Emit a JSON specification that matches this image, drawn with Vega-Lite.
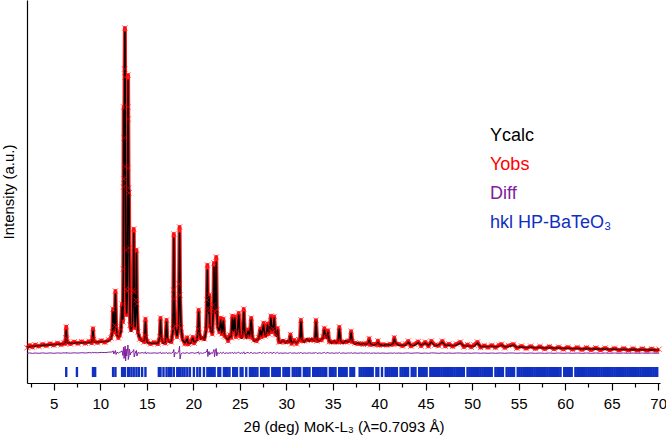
{
  "$schema": "https://vega.github.io/schema/vega-lite/v6.json",
  "width": 633,
  "height": 383,
  "autosize": "none",
  "padding": {"left": 27, "top": 0, "right": 6, "bottom": 59},
  "background": "white",
  "config": {
    "view": {"stroke": null},
    "axisY": {"labels": false, "ticks": false, "grid": false, "domainColor": "black", "domainWidth": 1.2, "titleFont": "Liberation Sans", "titleFontSize": 15, "titleFontWeight": "normal", "titleColor": "black", "titlePadding": 11},
    "axisX": {"grid": false, "domainColor": "black", "domainWidth": 1.2, "tickColor": "black", "tickWidth": 1.2, "labelFont": "Liberation Sans", "labelFontSize": 15, "labelColor": "black", "titleFont": "Liberation Sans", "titleFontSize": 15, "titleFontWeight": "normal", "titleColor": "black"}
  },
  "datasets": {
    "pattern": [
      {"tt":2.12,"calc":360,"obs":352,"diff":296},{"tt":2.4,"calc":364,"obs":378,"diff":301},{"tt":2.7,"calc":367,"obs":358,"diff":296},{"tt":3.0,"calc":370,"obs":382,"diff":300},{"tt":3.4,"calc":373,"obs":366,"diff":297},{"tt":3.8,"calc":376,"obs":388,"diff":301},{"tt":4.2,"calc":379,"obs":372,"diff":297},{"tt":4.6,"calc":382,"obs":394,"diff":301},{"tt":5.0,"calc":385,"obs":378,"diff":297},{"tt":5.4,"calc":388,"obs":399,"diff":301},{"tt":5.8,"calc":390,"obs":382,"diff":298},{"tt":6.1,"calc":392,"obs":404,"diff":302},
      {"tt":6.22,"calc":400,"obs":392,"diff":298},{"tt":6.29,"calc":440,"obs":452,"diff":302},{"tt":6.34,"calc":530,"obs":562,"diff":308},{"tt":6.39,"calc":450,"obs":440,"diff":296},{"tt":6.46,"calc":402,"obs":410,"diff":301},{"tt":6.8,"calc":398,"obs":390,"diff":298},{"tt":7.2,"calc":400,"obs":412,"diff":302},{"tt":7.6,"calc":402,"obs":394,"diff":299},{"tt":8.0,"calc":403,"obs":414,"diff":303},{"tt":8.4,"calc":404,"obs":396,"diff":300},{"tt":8.8,"calc":405,"obs":418,"diff":304},{"tt":9.08,"calc":408,"obs":400,"diff":301},
      {"tt":9.15,"calc":440,"obs":452,"diff":305},{"tt":9.22,"calc":520,"obs":545,"diff":310},{"tt":9.28,"calc":445,"obs":436,"diff":300},{"tt":9.36,"calc":410,"obs":418,"diff":304},{"tt":9.7,"calc":410,"obs":402,"diff":302},{"tt":10.1,"calc":412,"obs":424,"diff":306},{"tt":10.5,"calc":415,"obs":406,"diff":304},{"tt":10.9,"calc":420,"obs":432,"diff":308},{"tt":11.15,"calc":440,"obs":450,"diff":310},
      {"tt":11.3,"calc":500,"obs":512,"diff":310},{"tt":11.38,"calc":710,"obs":740,"diff":322},{"tt":11.46,"calc":520,"obs":505,"diff":290},{"tt":11.55,"calc":560,"obs":575,"diff":312},{"tt":11.63,"calc":890,"obs":920,"diff":325},{"tt":11.7,"calc":580,"obs":560,"diff":285},{"tt":11.8,"calc":480,"obs":490,"diff":308},{"tt":11.95,"calc":460,"obs":450,"diff":300},{"tt":12.1,"calc":470,"obs":480,"diff":308},{"tt":12.22,"calc":520,"obs":535,"diff":312},
      {"tt":12.35,"calc":760,"obs":790,"diff":322},{"tt":12.43,"calc":640,"obs":610,"diff":275},{"tt":12.48,"calc":1100,"obs":1140,"diff":330},{"tt":12.5,"calc":1900,"obs":1960,"diff":360},{"tt":12.52,"calc":2730,"obs":2760,"diff":330},{"tt":12.55,"calc":2100,"obs":2040,"diff":245},{"tt":12.59,"calc":2500,"obs":2450,"diff":250},{"tt":12.62,"calc":3100,"obs":3140,"diff":340},{"tt":12.65,"calc":3510,"obs":3550,"diff":350},{"tt":12.67,"calc":3000,"obs":3060,"diff":370},{"tt":12.7,"calc":2100,"obs":2160,"diff":340},{"tt":12.73,"calc":1400,"obs":1330,"diff":220},{"tt":12.78,"calc":900,"obs":940,"diff":340},{"tt":12.84,"calc":700,"obs":680,"diff":270},{"tt":12.9,"calc":900,"obs":920,"diff":320},
      {"tt":12.95,"calc":2100,"obs":2150,"diff":350},{"tt":12.97,"calc":2700,"obs":2760,"diff":380},{"tt":12.99,"calc":3030,"obs":3080,"diff":360},{"tt":13.01,"calc":2700,"obs":2640,"diff":235},{"tt":13.04,"calc":2000,"obs":1950,"diff":250},{"tt":13.09,"calc":1930,"obs":1900,"diff":270},{"tt":13.12,"calc":1300,"obs":1350,"diff":340},{"tt":13.16,"calc":900,"obs":940,"diff":330},{"tt":13.22,"calc":600,"obs":580,"diff":280},{"tt":13.3,"calc":520,"obs":530,"diff":305},{"tt":13.45,"calc":560,"obs":570,"diff":308},
      {"tt":13.55,"calc":900,"obs":930,"diff":325},{"tt":13.6,"calc":1500,"obs":1540,"diff":335},{"tt":13.65,"calc":950,"obs":910,"diff":260},{"tt":13.75,"calc":560,"obs":550,"diff":295},{"tt":13.84,"calc":800,"obs":830,"diff":320},{"tt":13.89,"calc":1300,"obs":1330,"diff":325},{"tt":13.94,"calc":820,"obs":790,"diff":270},{"tt":14.05,"calc":500,"obs":510,"diff":305},{"tt":14.25,"calc":450,"obs":440,"diff":298},{"tt":14.5,"calc":420,"obs":432,"diff":304},{"tt":14.72,"calc":420,"obs":410,"diff":298},
      {"tt":14.8,"calc":470,"obs":480,"diff":304},{"tt":14.86,"calc":610,"obs":640,"diff":312},{"tt":14.92,"calc":470,"obs":455,"diff":292},{"tt":15.05,"calc":405,"obs":415,"diff":302},{"tt":15.4,"calc":398,"obs":390,"diff":298},{"tt":15.8,"calc":396,"obs":408,"diff":301},{"tt":16.2,"calc":398,"obs":390,"diff":298},
      {"tt":16.4,"calc":450,"obs":465,"diff":303},{"tt":16.48,"calc":630,"obs":650,"diff":308},{"tt":16.55,"calc":460,"obs":448,"diff":294},{"tt":16.75,"calc":400,"obs":410,"diff":301},{"tt":17.0,"calc":405,"obs":398,"diff":298},{"tt":17.13,"calc":610,"obs":630,"diff":307},{"tt":17.2,"calc":450,"obs":440,"diff":295},{"tt":17.4,"calc":410,"obs":420,"diff":301},{"tt":17.65,"calc":420,"obs":410,"diff":297},
      {"tt":17.82,"calc":520,"obs":540,"diff":308},{"tt":17.87,"calc":900,"obs":930,"diff":320},{"tt":17.91,"calc":1450,"obs":1490,"diff":335},{"tt":17.96,"calc":880,"obs":840,"diff":260},{"tt":18.05,"calc":560,"obs":570,"diff":305},{"tt":18.25,"calc":470,"obs":460,"diff":296},{"tt":18.42,"calc":560,"obs":575,"diff":308},{"tt":18.48,"calc":950,"obs":990,"diff":335},{"tt":18.53,"calc":1500,"obs":1560,"diff":370},{"tt":18.58,"calc":950,"obs":880,"diff":240},{"tt":18.68,"calc":560,"obs":550,"diff":292},{"tt":18.85,"calc":430,"obs":440,"diff":302},
      {"tt":19.1,"calc":400,"obs":392,"diff":297},{"tt":19.35,"calc":440,"obs":455,"diff":304},{"tt":19.45,"calc":395,"obs":388,"diff":297},{"tt":19.75,"calc":400,"obs":410,"diff":301},{"tt":19.95,"calc":450,"obs":460,"diff":303},{"tt":20.1,"calc":405,"obs":398,"diff":297},{"tt":20.4,"calc":430,"obs":440,"diff":302},{"tt":20.52,"calc":520,"obs":540,"diff":308},{"tt":20.58,"calc":710,"obs":730,"diff":312},{"tt":20.64,"calc":520,"obs":500,"diff":288},{"tt":20.8,"calc":440,"obs":448,"diff":302},{"tt":21.0,"calc":460,"obs":450,"diff":296},{"tt":21.2,"calc":430,"obs":440,"diff":303},
      {"tt":21.38,"calc":520,"obs":535,"diff":308},{"tt":21.47,"calc":800,"obs":830,"diff":320},{"tt":21.52,"calc":1130,"obs":1180,"diff":340},{"tt":21.57,"calc":780,"obs":750,"diff":265},{"tt":21.66,"calc":700,"obs":720,"diff":312},{"tt":21.71,"calc":860,"obs":880,"diff":315},{"tt":21.77,"calc":600,"obs":580,"diff":282},{"tt":21.9,"calc":520,"obs":530,"diff":305},{"tt":22.05,"calc":500,"obs":490,"diff":294},
      {"tt":22.17,"calc":760,"obs":780,"diff":318},{"tt":22.23,"calc":1160,"obs":1200,"diff":335},{"tt":22.29,"calc":760,"obs":720,"diff":262},{"tt":22.38,"calc":700,"obs":720,"diff":318},{"tt":22.47,"calc":1210,"obs":1260,"diff":345},{"tt":22.53,"calc":760,"obs":730,"diff":270},{"tt":22.62,"calc":560,"obs":570,"diff":305},{"tt":22.8,"calc":520,"obs":510,"diff":295},
      {"tt":22.95,"calc":630,"obs":650,"diff":308},{"tt":23.06,"calc":500,"obs":490,"diff":294},{"tt":23.24,"calc":620,"obs":640,"diff":308},{"tt":23.35,"calc":480,"obs":470,"diff":294},{"tt":23.55,"calc":450,"obs":462,"diff":302},{"tt":23.75,"calc":430,"obs":420,"diff":297},{"tt":23.95,"calc":470,"obs":482,"diff":303},{"tt":24.08,"calc":460,"obs":452,"diff":297},
      {"tt":24.21,"calc":650,"obs":670,"diff":309},{"tt":24.33,"calc":520,"obs":508,"diff":292},{"tt":24.46,"calc":650,"obs":665,"diff":307},{"tt":24.58,"calc":470,"obs":460,"diff":296},{"tt":24.75,"calc":500,"obs":512,"diff":303},{"tt":24.89,"calc":680,"obs":700,"diff":309},{"tt":25.02,"calc":480,"obs":470,"diff":294},{"tt":25.2,"calc":450,"obs":460,"diff":302},{"tt":25.32,"calc":480,"obs":470,"diff":296},
      {"tt":25.43,"calc":710,"obs":740,"diff":312},{"tt":25.54,"calc":520,"obs":505,"diff":291},{"tt":25.72,"calc":450,"obs":462,"diff":302},{"tt":25.9,"calc":520,"obs":535,"diff":305},{"tt":26.05,"calc":470,"obs":460,"diff":296},{"tt":26.24,"calc":630,"obs":650,"diff":308},{"tt":26.36,"calc":460,"obs":450,"diff":294},{"tt":26.55,"calc":420,"obs":430,"diff":302},{"tt":26.8,"calc":430,"obs":420,"diff":297},{"tt":27.05,"calc":440,"obs":452,"diff":302},
      {"tt":27.21,"calc":530,"obs":545,"diff":305},{"tt":27.34,"calc":470,"obs":460,"diff":295},{"tt":27.56,"calc":580,"obs":600,"diff":307},{"tt":27.7,"calc":480,"obs":470,"diff":295},{"tt":27.85,"calc":470,"obs":482,"diff":302},{"tt":27.99,"calc":580,"obs":595,"diff":306},{"tt":28.12,"calc":500,"obs":490,"diff":296},{"tt":28.22,"calc":520,"obs":530,"diff":302},
      {"tt":28.35,"calc":650,"obs":670,"diff":308},{"tt":28.46,"calc":520,"obs":508,"diff":293},{"tt":28.58,"calc":530,"obs":540,"diff":302},{"tt":28.7,"calc":650,"obs":665,"diff":307},{"tt":28.82,"calc":500,"obs":490,"diff":295},{"tt":28.95,"calc":470,"obs":480,"diff":302},{"tt":29.07,"calc":530,"obs":548,"diff":306},{"tt":29.2,"calc":420,"obs":410,"diff":296},{"tt":29.4,"calc":400,"obs":410,"diff":301},{"tt":29.65,"calc":430,"obs":420,"diff":297},{"tt":29.9,"calc":400,"obs":410,"diff":301},{"tt":30.15,"calc":420,"obs":410,"diff":297},{"tt":30.35,"calc":410,"obs":420,"diff":301},
      {"tt":30.45,"calc":470,"obs":485,"diff":304},{"tt":30.58,"calc":400,"obs":392,"diff":297},{"tt":30.85,"calc":420,"obs":430,"diff":301},{"tt":31.1,"calc":400,"obs":392,"diff":297},{"tt":31.35,"calc":420,"obs":432,"diff":302},{"tt":31.48,"calc":440,"obs":430,"diff":296},{"tt":31.58,"calc":610,"obs":630,"diff":308},{"tt":31.7,"calc":430,"obs":420,"diff":295},{"tt":31.95,"calc":410,"obs":420,"diff":301},{"tt":32.2,"calc":440,"obs":430,"diff":297},{"tt":32.5,"calc":420,"obs":432,"diff":302},{"tt":32.75,"calc":440,"obs":430,"diff":297},{"tt":33.0,"calc":420,"obs":432,"diff":302},{"tt":33.1,"calc":440,"obs":430,"diff":297},
      {"tt":33.2,"calc":610,"obs":628,"diff":307},{"tt":33.32,"calc":430,"obs":420,"diff":295},{"tt":33.55,"calc":420,"obs":430,"diff":301},{"tt":33.8,"calc":440,"obs":430,"diff":297},{"tt":33.98,"calc":450,"obs":462,"diff":302},{"tt":34.1,"calc":530,"obs":548,"diff":306},{"tt":34.25,"calc":470,"obs":460,"diff":296},{"tt":34.38,"calc":450,"obs":462,"diff":302},{"tt":34.49,"calc":510,"obs":525,"diff":305},{"tt":34.62,"calc":420,"obs":412,"diff":297},{"tt":34.9,"calc":400,"obs":410,"diff":301},{"tt":35.15,"calc":420,"obs":410,"diff":297},{"tt":35.4,"calc":400,"obs":412,"diff":301},{"tt":35.58,"calc":420,"obs":410,"diff":297},
      {"tt":35.71,"calc":540,"obs":560,"diff":307},{"tt":35.84,"calc":420,"obs":410,"diff":296},{"tt":36.1,"calc":400,"obs":410,"diff":301},{"tt":36.4,"calc":420,"obs":410,"diff":297},{"tt":36.7,"calc":410,"obs":420,"diff":301},{"tt":36.88,"calc":430,"obs":420,"diff":297},{"tt":36.98,"calc":500,"obs":518,"diff":305},{"tt":37.1,"calc":420,"obs":412,"diff":297},{"tt":37.4,"calc":390,"obs":400,"diff":301},{"tt":37.7,"calc":400,"obs":392,"diff":297},{"tt":38.0,"calc":385,"obs":395,"diff":301},{"tt":38.3,"calc":395,"obs":386,"diff":297},{"tt":38.6,"calc":385,"obs":395,"diff":301},{"tt":38.82,"calc":400,"obs":392,"diff":297},
      {"tt":38.92,"calc":430,"obs":445,"diff":303},{"tt":39.05,"calc":390,"obs":382,"diff":297},{"tt":39.4,"calc":380,"obs":390,"diff":300},{"tt":39.75,"calc":390,"obs":382,"diff":297},{"tt":39.86,"calc":410,"obs":422,"diff":302},{"tt":40.0,"calc":385,"obs":378,"diff":297},{"tt":40.4,"calc":375,"obs":385,"diff":300},{"tt":40.8,"calc":385,"obs":378,"diff":297},{"tt":41.2,"calc":378,"obs":388,"diff":300},{"tt":41.5,"calc":395,"obs":385,"diff":297},{"tt":41.62,"calc":440,"obs":455,"diff":303},{"tt":41.75,"calc":400,"obs":392,"diff":297},
      {"tt":42.1,"calc":380,"obs":390,"diff":300},{"tt":42.5,"calc":378,"obs":370,"diff":297},{"tt":42.85,"calc":380,"obs":390,"diff":300},{"tt":43.13,"calc":410,"obs":420,"diff":301},{"tt":43.4,"calc":375,"obs":368,"diff":297},{"tt":43.8,"calc":378,"obs":388,"diff":300},{"tt":44.2,"calc":405,"obs":414,"diff":301},{"tt":44.5,"calc":378,"obs":370,"diff":297},{"tt":44.96,"calc":400,"obs":410,"diff":300},{"tt":45.3,"calc":375,"obs":368,"diff":297},{"tt":45.61,"calc":410,"obs":420,"diff":301},{"tt":46.0,"calc":372,"obs":380,"diff":300},{"tt":46.4,"calc":380,"obs":372,"diff":297},{"tt":46.79,"calc":410,"obs":420,"diff":301},
      {"tt":47.1,"calc":375,"obs":368,"diff":297},{"tt":47.5,"calc":380,"obs":390,"diff":300},{"tt":47.9,"calc":372,"obs":365,"diff":297},{"tt":48.3,"calc":380,"obs":390,"diff":300},{"tt":48.74,"calc":400,"obs":410,"diff":300},{"tt":49.1,"calc":368,"obs":360,"diff":297},{"tt":49.5,"calc":375,"obs":384,"diff":300},{"tt":49.9,"calc":365,"obs":358,"diff":297},{"tt":50.2,"calc":372,"obs":380,"diff":300},{"tt":50.57,"calc":400,"obs":410,"diff":300},{"tt":50.9,"calc":362,"obs":355,"diff":297},{"tt":51.3,"calc":368,"obs":376,"diff":300},{"tt":51.7,"calc":362,"obs":355,"diff":297},{"tt":52.1,"calc":370,"obs":378,"diff":300},
      {"tt":52.5,"calc":360,"obs":353,"diff":297},{"tt":52.9,"calc":370,"obs":378,"diff":300},{"tt":53.16,"calc":380,"obs":388,"diff":300},{"tt":53.5,"calc":360,"obs":352,"diff":297},{"tt":53.9,"calc":366,"obs":374,"diff":300},{"tt":54.45,"calc":380,"obs":388,"diff":300},{"tt":54.8,"calc":355,"obs":348,"diff":297},{"tt":55.3,"calc":362,"obs":370,"diff":300},{"tt":55.8,"calc":352,"obs":345,"diff":297},{"tt":56.3,"calc":360,"obs":368,"diff":300},{"tt":56.8,"calc":350,"obs":343,"diff":297},{"tt":57.3,"calc":358,"obs":366,"diff":300},{"tt":57.8,"calc":348,"obs":341,"diff":297},{"tt":58.3,"calc":356,"obs":364,"diff":300},
      {"tt":58.8,"calc":346,"obs":339,"diff":297},{"tt":59.3,"calc":352,"obs":360,"diff":300},{"tt":59.8,"calc":345,"obs":338,"diff":297},{"tt":60.3,"calc":350,"obs":358,"diff":300},{"tt":60.8,"calc":342,"obs":335,"diff":297},{"tt":61.3,"calc":348,"obs":356,"diff":300},{"tt":61.8,"calc":340,"obs":333,"diff":297},{"tt":62.3,"calc":346,"obs":354,"diff":300},{"tt":62.8,"calc":338,"obs":331,"diff":297},{"tt":63.3,"calc":344,"obs":352,"diff":300},{"tt":63.8,"calc":336,"obs":329,"diff":297},{"tt":64.3,"calc":342,"obs":350,"diff":300},{"tt":64.8,"calc":334,"obs":327,"diff":297},
      {"tt":65.3,"calc":340,"obs":348,"diff":300},{"tt":65.8,"calc":333,"obs":326,"diff":297},{"tt":66.3,"calc":338,"obs":346,"diff":300},{"tt":66.8,"calc":332,"obs":325,"diff":297},{"tt":67.3,"calc":336,"obs":344,"diff":300},{"tt":67.8,"calc":331,"obs":324,"diff":297},{"tt":68.3,"calc":335,"obs":343,"diff":300},{"tt":68.8,"calc":330,"obs":323,"diff":297},{"tt":69.3,"calc":334,"obs":342,"diff":300},{"tt":69.8,"calc":330,"obs":323,"diff":297},{"tt":70.1,"calc":331,"obs":338,"diff":299}
    ],
    "hkl": [
      {"tt":6.34},{"tt":7.49},{"tt":9.22},{"tt":9.45},{"tt":11.38},{"tt":11.63},{"tt":12.35},{"tt":12.52},{"tt":12.65},{"tt":12.99},{"tt":13.09},{"tt":13.35},{"tt":13.6},{"tt":13.89},{"tt":14.15},{"tt":14.5},{"tt":14.86},{"tt":16.3},{"tt":16.48},{"tt":16.8},{"tt":17.13},{"tt":17.38},{"tt":17.63},{"tt":17.91},{"tt":18.28},{"tt":18.45},{"tt":18.62},{"tt":18.85},{"tt":19.07},{"tt":19.36},{"tt":19.64},{"tt":20.07},{"tt":20.44},{"tt":20.72},{"tt":21.15},{"tt":21.52},
      {"tt":21.7},{"tt":21.9},{"tt":22.1},{"tt":22.3},{"tt":22.7},{"tt":22.9},{"tt":23.3},{"tt":23.5},{"tt":23.7},{"tt":23.9},{"tt":24.3},{"tt":24.5},{"tt":24.7},{"tt":25.1},{"tt":25.3},{"tt":25.7},{"tt":26.1},{"tt":26.3},{"tt":26.5},{"tt":26.7},{"tt":26.9},{"tt":27.3},{"tt":27.5},{"tt":27.7},{"tt":27.9},{"tt":28.1},{"tt":28.5},{"tt":28.7},{"tt":28.9},{"tt":29.1},{"tt":29.3},{"tt":29.7},{"tt":29.9},{"tt":30.1},{"tt":30.3},{"tt":30.7},{"tt":30.9},{"tt":31.1},{"tt":31.3},{"tt":31.5},{"tt":31.9},{"tt":32.1},{"tt":32.3},{"tt":32.5},{"tt":32.9},{"tt":33.1},{"tt":33.3},{"tt":33.5},{"tt":33.7},{"tt":33.9},{"tt":34.1},{"tt":34.3},{"tt":34.7},{"tt":34.9},{"tt":35.1},{"tt":35.3},{"tt":35.7},{"tt":35.9},{"tt":36.1},{"tt":36.3},{"tt":36.5},{"tt":36.9},{"tt":37.1},{"tt":37.3},{"tt":37.9},{"tt":38.1},{"tt":38.3},{"tt":38.5},{"tt":38.7},{"tt":38.9},{"tt":39.1},{"tt":39.3},{"tt":39.7},{"tt":39.9},{"tt":40.3},{"tt":40.7},{"tt":40.9},{"tt":41.1},{"tt":41.3},{"tt":41.5},{"tt":41.7},{"tt":41.9},{"tt":42.3},{"tt":42.5},{"tt":42.7},{"tt":42.9},{"tt":43.1},{"tt":43.5},{"tt":43.7},{"tt":43.9},{"tt":44.3},{"tt":44.5},{"tt":44.7},{"tt":44.9},{"tt":45.1},{"tt":45.5},{"tt":45.7},{"tt":45.9},{"tt":46.1},{"tt":46.3},{"tt":46.5},{"tt":46.7},{"tt":46.9},{"tt":47.1},{"tt":47.3},{"tt":47.5},{"tt":47.7},{"tt":47.9},{"tt":48.1},{"tt":48.3},{"tt":48.5},{"tt":48.7},{"tt":48.9},{"tt":49.1},{"tt":49.5},{"tt":49.7},{"tt":49.9},{"tt":50.1},{"tt":50.3},{"tt":50.5},{"tt":50.7},{"tt":50.9},{"tt":51.1},{"tt":51.3},{"tt":51.5},{"tt":51.7},{"tt":51.9},{"tt":52.1},{"tt":52.5},{"tt":52.7},{"tt":52.9},{"tt":53.1},{"tt":53.3},{"tt":53.7},{"tt":53.9},{"tt":54.1},{"tt":54.3},{"tt":54.5},{"tt":54.9},{"tt":55.1},{"tt":55.3},{"tt":55.5},{"tt":55.7},{"tt":55.9},{"tt":56.1},{"tt":56.3},{"tt":56.5},{"tt":56.7},{"tt":56.9},{"tt":57.1},{"tt":57.3},{"tt":57.5},{"tt":57.7},{"tt":57.9},{"tt":58.1},{"tt":58.3},{"tt":58.5},{"tt":58.7},{"tt":58.9},{"tt":59.1},{"tt":59.3},{"tt":59.5},{"tt":59.9},{"tt":60.1},{"tt":60.3},{"tt":60.5},{"tt":60.7},{"tt":61.1},{"tt":61.3},{"tt":61.5},{"tt":61.7},{"tt":61.9},{"tt":62.1},{"tt":62.3},{"tt":62.5},{"tt":62.7},{"tt":62.9},{"tt":63.1},{"tt":63.3},{"tt":63.5},{"tt":63.7},{"tt":63.9},{"tt":64.1},{"tt":64.3},{"tt":64.5},{"tt":64.7},{"tt":64.9},{"tt":65.1},{"tt":65.3},{"tt":65.5},{"tt":65.7},{"tt":65.9},{"tt":66.1},{"tt":66.3},{"tt":66.5},{"tt":66.7},{"tt":66.9},{"tt":67.1},{"tt":67.3},{"tt":67.5},{"tt":67.7},{"tt":67.9},{"tt":68.1},{"tt":68.3},{"tt":68.5},{"tt":68.7},{"tt":68.9},{"tt":69.1},{"tt":69.3},{"tt":69.5},{"tt":69.7},{"tt":69.9}
    ]
  },
  "resolve": {"axis": {"x": "independent"}},
  "layer": [
    {
      "data": {"name": "pattern"},
      "mark": {"type": "line", "strokeWidth": 4, "strokeJoin": "round", "opacity": 0.9},
      "encoding": {
        "x": {"field": "tt", "type": "quantitative", "scale": {"domain": [2.12, 70.2], "nice": false, "zero": false},
              "axis": {"values": [5,10,15,20,25,30,35,40,45,50,55,60,65,70], "tickSize": 7, "labelPadding": 6, "title": "2θ (deg) MoK-L₃ (λ=0.7093 Å)", "titlePadding": 8, "orient": "bottom"}},
        "y": {"field": "obs", "type": "quantitative", "scale": {"domain": [0, 3830], "nice": false, "zero": false}, "title": "Intensity (a.u.)"},
        "color": {"datum": "Yobs", "type": "nominal",
                  "scale": {"domain": ["Ycalc", "Yobs", "Diff", "hkl HP-BaTeO₃"], "range": ["#000000", "#ff0000", "#8020a0", "#1030c0"]},
                  "legend": {"orient": "none", "legendX": 445, "legendY": 127, "title": null, "symbolOpacity": 0, "symbolSize": 0, "symbolStrokeWidth": 0, "labelOffset": 0, "labelFontSize": 18, "labelFont": "Liberation Sans", "rowPadding": 11, "padding": 0, "labelLimit": 300,
                             "labelColor": {"expr": "datum.value == 'Ycalc' ? '#000000' : datum.value == 'Yobs' ? '#ff0000' : datum.value == 'Diff' ? '#8020a0' : '#1030c0'"}}}
      }
    },
    {
      "data": {"name": "pattern"},
      "mark": {"type": "line", "strokeWidth": 1.6, "strokeJoin": "round"},
      "encoding": {
        "x": {"field": "tt", "type": "quantitative",
              "axis": {"values": [2.5,7.5,12.5,17.5,22.5,27.5,32.5,37.5,42.5,47.5,52.5,57.5,62.5,67.5], "tickSize": 4, "labels": false, "domain": false, "title": null, "orient": "bottom"}},
        "y": {"field": "calc", "type": "quantitative", "title": "Intensity (a.u.)"},
        "color": {"datum": "Ycalc", "type": "nominal"}
      }
    },
    {
      "data": {"name": "pattern"},
      "mark": {"type": "point", "shape": "M-1,-1L1,1M-1,1L1,-1", "filled": false, "size": 28, "strokeWidth": 0.9, "opacity": 0.7},
      "encoding": {
        "x": {"field": "tt", "type": "quantitative", "axis": null},
        "y": {"field": "obs", "type": "quantitative", "title": "Intensity (a.u.)"},
        "color": {"datum": "Yobs", "type": "nominal"}
      }
    },
    {
      "data": {"name": "pattern"},
      "mark": {"type": "line", "strokeWidth": 1, "strokeJoin": "round"},
      "encoding": {
        "x": {"field": "tt", "type": "quantitative", "axis": null},
        "y": {"field": "diff", "type": "quantitative", "title": "Intensity (a.u.)"},
        "color": {"datum": "Diff", "type": "nominal"}
      }
    },
    {
      "data": {"name": "hkl"},
      "mark": {"type": "rule", "strokeWidth": 2.4},
      "encoding": {
        "x": {"field": "tt", "type": "quantitative", "axis": null},
        "y": {"datum": 60, "type": "quantitative", "title": "Intensity (a.u.)"},
        "y2": {"datum": 160},
        "color": {"datum": "hkl HP-BaTeO₃", "type": "nominal"}
      }
    }
  ]
}
